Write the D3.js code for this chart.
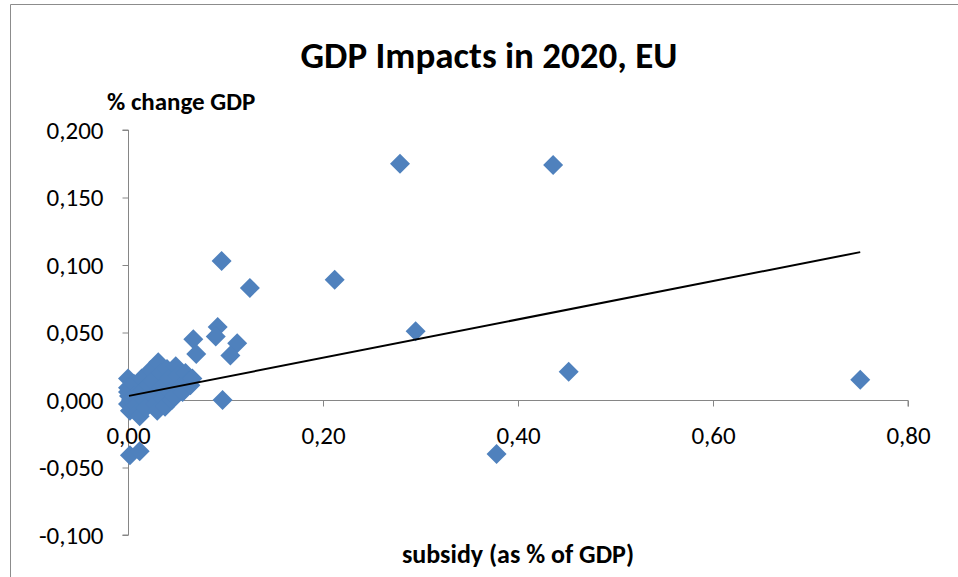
<!DOCTYPE html>
<html>
<head>
<meta charset="utf-8">
<script src="https://cdn.jsdelivr.net/npm/d3@7/dist/d3.min.js"></script>
<style>
  html, body { margin: 0; padding: 0; background: #fff; }
  svg { display: block; }
  text { font-family: Carlito, Calibri, Lato, "Open Sans", sans-serif; fill: #000; }
</style>
</head>
<body>
<svg id="chart" width="958" height="577"></svg>
<script>
// Subsidy (as % of GDP) and % change in GDP, one entry per observation
const subsidy = [
  0.279, 0.436, 0.212, 0.125, 0.096, 0.295, 0.452, 0.378, 0.751, 0.097,
  0.067, 0.092, 0.090, 0.112, 0.105, 0.070, 0.002, 0.012,
  0.000, 0.000, 0.001, 0.000, 0.002, 0.003, 0.000, 0.006, 0.007, 0.008,
  0.010, 0.012, 0.014, 0.015, 0.017, 0.018, 0.021, 0.023, 0.025, 0.026,
  0.028, 0.030, 0.031, 0.033, 0.034, 0.036, 0.038, 0.040, 0.042, 0.043,
  0.045, 0.048, 0.049, 0.051, 0.053, 0.056, 0.059, 0.062, 0.064, 0.066
];
const gdpChange = [
  0.175, 0.174, 0.089, 0.083, 0.103, 0.051, 0.021, -0.040, 0.015, 0.000,
  0.045, 0.054, 0.047, 0.042, 0.033, 0.034, -0.041, -0.038,
  0.016, 0.009, 0.003, -0.003, -0.008, 0.000, 0.006, 0.012, 0.003, -0.004,
  -0.009, -0.012, 0.016, 0.007, 0.000, -0.006, 0.011, 0.022, 0.014, 0.003,
  -0.003, -0.008, 0.028, 0.020, 0.009, 0.001, -0.005, 0.023, 0.016, 0.006,
  0.000, 0.003, 0.025, 0.018, 0.010, 0.006, 0.020, 0.014, 0.011, 0.016
];

// Linear trend line: intercept, slope and the subsidy range it spans
const trendIntercept = 0.0029;
const trendSlope = 0.142;
const trendRange = [0.001, 0.751];

const xTicks = [0, 0.2, 0.4, 0.6, 0.8];
const yTicks = [-0.1, -0.05, 0, 0.05, 0.1, 0.15, 0.2];

const titleText = "GDP Impacts in 2020, EU";
const yAxisTitle = "% change GDP";
const xAxisTitle = "subsidy (as % of GDP)";

const svg = d3.select("#chart");
const axisColor = "#868686";
const markerColor = "#4F81BD";
const fontStack = "Carlito, Calibri, Lato, sans-serif";

// Chart area outline
svg.append("path")
  .attr("d", "M10.5,600 L10.5,4.5 L970,4.5")
  .attr("fill", "none")
  .attr("stroke", "#8c8c8c")
  .attr("stroke-width", 1);

const x = d3.scaleLinear().domain([0, 0.8]).range([128, 908]);
const y = d3.scaleLinear().domain([-0.1, 0.2]).range([535, 130]);

const locale = d3.formatLocale({
  decimal: ",", thousands: ".", grouping: [3], currency: ["", " €"], minus: "-"
});
const fmtY = locale.format(".3f");
const fmtX = locale.format(".2f");

// Y axis: line on the left with outward ticks
const yAxis = svg.append("g")
  .attr("transform", `translate(${x(0) + 0.5},0)`)
  .call(d3.axisLeft(y).tickValues(yTicks).tickFormat(fmtY).tickSize(6).tickPadding(19));
yAxis.select(".domain").attr("stroke", axisColor).attr("d", `M-6,${y(0.2)}H0V${y(-0.1)}H-6`);
yAxis.selectAll(".tick line").attr("stroke", axisColor);
yAxis.selectAll(".tick text").attr("font-size", 25).attr("fill", "#000")
  .attr("font-family", fontStack);

// X axis through zero with ticks hanging below
const xAxis = svg.append("g")
  .attr("transform", `translate(0,${y(0) + 0.5})`)
  .call(d3.axisBottom(x).tickValues(xTicks).tickFormat(fmtX).tickSize(6).tickPadding(20));
xAxis.select(".domain").attr("stroke", axisColor).attr("d", `M${x(0)},0H${x(0.8)}V6`);
xAxis.selectAll(".tick line").attr("stroke", axisColor);
xAxis.selectAll(".tick text").attr("font-size", 25).attr("fill", "#000")
  .attr("font-family", fontStack);

// Titles
svg.append("text")
  .attr("x", 489).attr("y", 68)
  .attr("text-anchor", "middle")
  .attr("font-size", 37).attr("font-weight", "bold")
  .text(titleText);

svg.append("text")
  .attr("x", 107).attr("y", 110)
  .attr("font-size", 25).attr("font-weight", "bold")
  .text(yAxisTitle);

svg.append("text")
  .attr("x", (x(0) + x(0.8)) / 2).attr("y", 563)
  .attr("text-anchor", "middle")
  .attr("font-size", 26).attr("font-weight", "bold")
  .text(xAxisTitle);

// Diamond markers
const points = subsidy.map((s, i) => ({ s, g: gdpChange[i] }));
const diamond = d3.symbol().type(d3.symbolSquare).size(200);
svg.append("g")
  .selectAll("path")
  .data(points)
  .join("path")
  .attr("d", diamond)
  .attr("transform", d => `translate(${x(d.s)},${y(d.g)}) rotate(45)`)
  .attr("fill", markerColor);

// Trend line across the subsidy range
const trendLine = d3.line()
  .x(d => x(d))
  .y(d => y(trendIntercept + trendSlope * d));
svg.append("path")
  .datum(trendRange)
  .attr("d", trendLine)
  .attr("fill", "none")
  .attr("stroke", "#000")
  .attr("stroke-width", 2);
</script>
</body>
</html>
